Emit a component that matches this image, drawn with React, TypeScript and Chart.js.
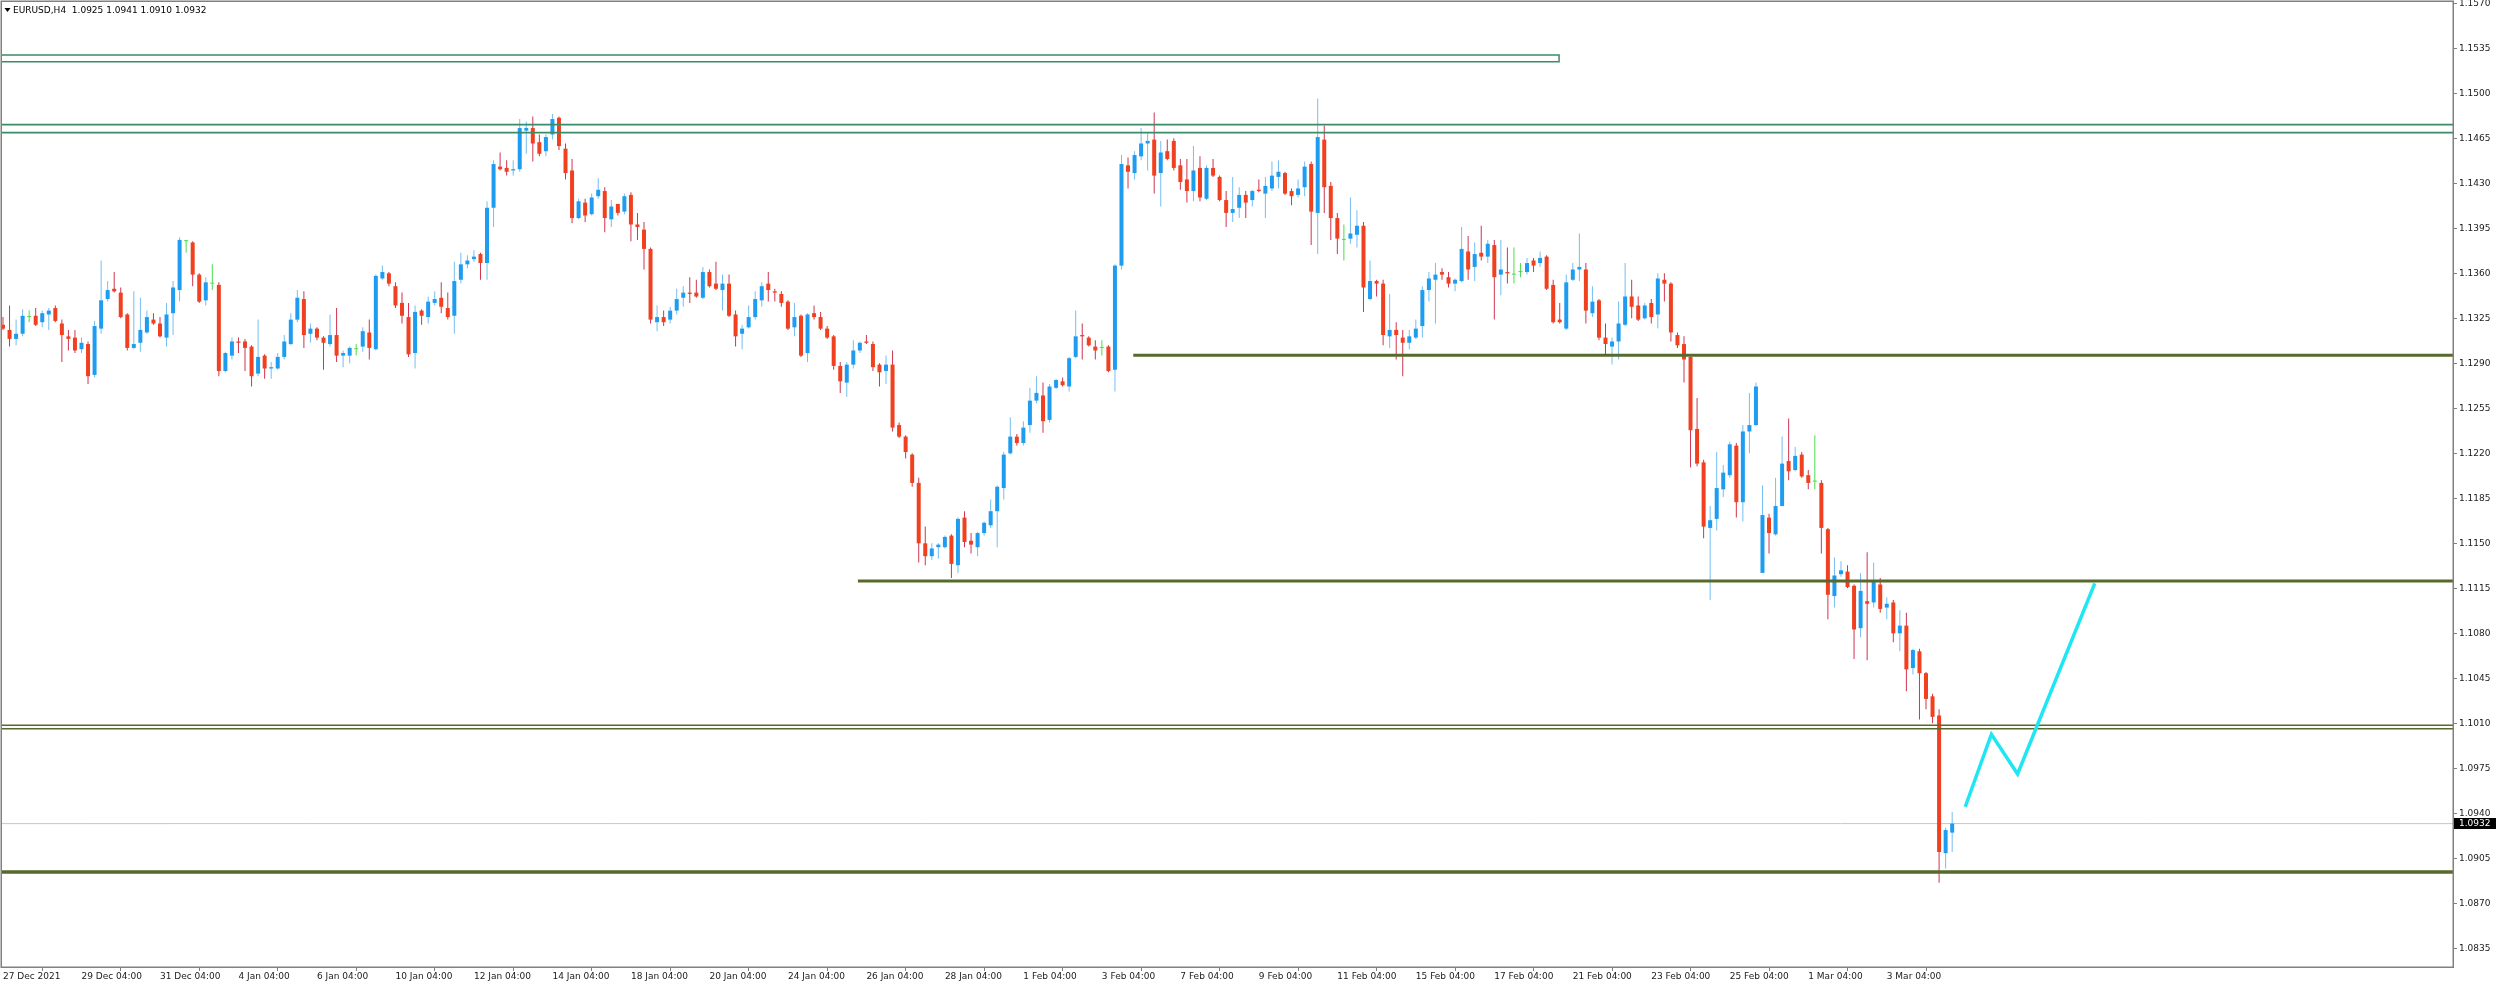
import React, { useEffect, useRef } from "react";
import { Chart, registerables } from "chart.js";

Chart.register(...registerables);

// ---------------- DATA ----------------
const symbolName = "EURUSD";
const timeframe = "H4";

const openPrices = [
  1.1320, 1.1316, 1.1309, 1.1313, 1.1326, 1.1327, 1.1322, 1.1328, 1.1333, 1.1321,
  1.1311, 1.1310, 1.1301, 1.1305, 1.1281, 1.1317, 1.1340, 1.1348, 1.1345, 1.1328,
  1.1302, 1.1306, 1.1314, 1.1324, 1.1321, 1.1310, 1.1329, 1.1347, 1.1385, 1.1384,
  1.1359, 1.1339, 1.1352, 1.1351, 1.1284, 1.1296, 1.1307, 1.1307, 1.1303, 1.1282,
  1.1296, 1.1286, 1.1286, 1.1295, 1.1305, 1.1324, 1.1340, 1.1313, 1.1317, 1.1310,
  1.1305, 1.1312, 1.1296, 1.1296, 1.1301, 1.1303, 1.1314, 1.1301, 1.1356, 1.1360,
  1.1350, 1.1337, 1.1326, 1.1298, 1.1331, 1.1326, 1.1337, 1.1341, 1.1333, 1.1327,
  1.1355, 1.1367, 1.1371, 1.1375, 1.1368, 1.1411, 1.1443, 1.1442, 1.1440, 1.1441,
  1.1471, 1.1473, 1.1462, 1.1455, 1.1468, 1.1481, 1.1457, 1.1440, 1.1403, 1.1415,
  1.1406, 1.1420, 1.1424, 1.1402, 1.1414, 1.1408, 1.1421, 1.1398, 1.1394, 1.1379,
  1.1322, 1.1326, 1.1324, 1.1331, 1.1341, 1.1345, 1.1345, 1.1341, 1.1361, 1.1352,
  1.1347, 1.1352, 1.1328, 1.1313, 1.1318, 1.1326, 1.1339, 1.1352, 1.1346, 1.1344,
  1.1338, 1.1318, 1.1327, 1.1298, 1.1329, 1.1326, 1.1317, 1.1311, 1.1288, 1.1275,
  1.1289, 1.1300, 1.1307, 1.1305, 1.1289, 1.1284, 1.1289, 1.1242, 1.1233, 1.1219,
  1.1197, 1.1150, 1.1140, 1.1147, 1.1147, 1.1156, 1.1133, 1.1170, 1.1152, 1.1147,
  1.1158, 1.1164, 1.1175, 1.1193, 1.1220, 1.1233, 1.1228, 1.1242, 1.1261, 1.1265,
  1.1246, 1.1271, 1.1276, 1.1272, 1.1295, 1.1312, 1.1310, 1.1303, 1.1302, 1.1303,
  1.1285, 1.1366, 1.1444, 1.1438, 1.1451, 1.1461, 1.1464, 1.1438, 1.1455, 1.1463,
  1.1444, 1.1433, 1.1424, 1.1442, 1.1418, 1.1442, 1.1435, 1.1417, 1.1407, 1.1411,
  1.1421, 1.1417, 1.1425, 1.1422, 1.1426, 1.1435, 1.1438, 1.1424, 1.1421, 1.1427,
  1.1445, 1.1407, 1.1464, 1.1428, 1.1403, 1.1386, 1.1387, 1.1390, 1.1397, 1.1340,
  1.1354, 1.1352, 1.1311, 1.1316, 1.1310, 1.1306, 1.1310, 1.1319, 1.1347, 1.1355,
  1.1361, 1.1357, 1.1352, 1.1354, 1.1377, 1.1365, 1.1376, 1.1373, 1.1382, 1.1359,
  1.1361, 1.1359, 1.1361, 1.1361, 1.1370, 1.1368, 1.1373, 1.1351, 1.1324, 1.1317,
  1.1355, 1.1363, 1.1363, 1.1329, 1.1339, 1.1310, 1.1303, 1.1307, 1.1320, 1.1342,
  1.1335, 1.1325, 1.1337, 1.1328, 1.1355, 1.1352, 1.1312, 1.1305, 1.1295, 1.1239,
  1.1213, 1.1162, 1.1169, 1.1192, 1.1203, 1.1226, 1.1182, 1.1237, 1.1242, 1.1127,
  1.1170, 1.1157, 1.1179, 1.1214, 1.1207, 1.1219, 1.1203, 1.1198, 1.1197, 1.1161,
  1.1109, 1.1126, 1.1128, 1.1117, 1.1084, 1.1105, 1.1104, 1.1118, 1.1100, 1.1104,
  1.1080, 1.1086, 1.1053, 1.1066, 1.1049, 1.1031, 1.1016, 1.0909, 1.0925,
];

const highPrices = [
  1.1326, 1.1335, 1.1324, 1.1332, 1.1331, 1.1333, 1.1331, 1.1333, 1.1335, 1.1324,
  1.1316, 1.1316, 1.1310, 1.1307, 1.1323, 1.1370, 1.1354, 1.1361, 1.1349, 1.1329,
  1.1346, 1.1341, 1.1331, 1.1329, 1.1326, 1.1337, 1.1354, 1.1388, 1.1386, 1.1385,
  1.1360, 1.1357, 1.1367, 1.1353, 1.1299, 1.1310, 1.1310, 1.1309, 1.1304, 1.1324,
  1.1297, 1.1291, 1.1298, 1.1312, 1.1329, 1.1347, 1.1346, 1.1321, 1.1318, 1.1311,
  1.1328, 1.1333, 1.1300, 1.1303, 1.1305, 1.1318, 1.1324, 1.1359, 1.1366, 1.1361,
  1.1353, 1.1345, 1.1337, 1.1335, 1.1332, 1.1342, 1.1346, 1.1353, 1.1345, 1.1369,
  1.1376, 1.1374, 1.1378, 1.1376, 1.1416, 1.1448, 1.1454, 1.1448, 1.1448, 1.1480,
  1.1478, 1.1482, 1.1468, 1.1468, 1.1484, 1.1482, 1.1461, 1.1449, 1.1418, 1.1418,
  1.1422, 1.1434, 1.1427, 1.1417, 1.1414, 1.1422, 1.1423, 1.1407, 1.1400, 1.1380,
  1.1335, 1.1331, 1.1334, 1.1348, 1.1350, 1.1357, 1.1355, 1.1365, 1.1363, 1.1369,
  1.1359, 1.1359, 1.1331, 1.1320, 1.1335, 1.1346, 1.1353, 1.1361, 1.1348, 1.1346,
  1.1339, 1.1337, 1.1328, 1.1329, 1.1335, 1.1330, 1.1319, 1.1312, 1.1291, 1.1291,
  1.1308, 1.1307, 1.1312, 1.1307, 1.1290, 1.1296, 1.1300, 1.1244, 1.1234, 1.1220,
  1.1201, 1.1163, 1.1150, 1.1150, 1.1156, 1.1157, 1.1170, 1.1175, 1.1158, 1.1159,
  1.1167, 1.1184, 1.1195, 1.1221, 1.1248, 1.1235, 1.1245, 1.1271, 1.1280, 1.1275,
  1.1274, 1.1278, 1.1279, 1.1295, 1.1331, 1.1321, 1.1311, 1.1308, 1.1308, 1.1304,
  1.1367, 1.1452, 1.1450, 1.1455, 1.1473, 1.1469, 1.1485, 1.1463, 1.1464, 1.1465,
  1.1449, 1.1449, 1.1459, 1.1451, 1.1444, 1.1449, 1.1436, 1.1424, 1.1435, 1.1427,
  1.1424, 1.1425, 1.1433, 1.1435, 1.1447, 1.1448, 1.1439, 1.1426, 1.1433, 1.1447,
  1.1447, 1.1496, 1.1475, 1.1431, 1.1407, 1.1398, 1.1419, 1.1409, 1.1400, 1.1370,
  1.1355, 1.1355, 1.1344, 1.1322, 1.1316, 1.1316, 1.1324, 1.1350, 1.1361, 1.1368,
  1.1364, 1.1361, 1.1356, 1.1396, 1.1389, 1.1384, 1.1397, 1.1386, 1.1386, 1.1386,
  1.1380, 1.1380, 1.1368, 1.1372, 1.1372, 1.1377, 1.1374, 1.1355, 1.1337, 1.1359,
  1.1368, 1.1391, 1.1368, 1.1350, 1.1340, 1.1321, 1.1310, 1.1338, 1.1368, 1.1355,
  1.1342, 1.1337, 1.1340, 1.1360, 1.1360, 1.1353, 1.1314, 1.1311, 1.1297, 1.1263,
  1.1215, 1.1179, 1.1221, 1.1211, 1.1229, 1.1228, 1.1242, 1.1267, 1.1275, 1.1195,
  1.1173, 1.1201, 1.1233, 1.1247, 1.1225, 1.1221, 1.1207, 1.1234, 1.1199, 1.1162,
  1.1139, 1.1136, 1.1133, 1.1118, 1.1127, 1.1143, 1.1135, 1.1123, 1.1108, 1.1106,
  1.1098, 1.1096, 1.1068, 1.1068, 1.1050, 1.1033, 1.1021, 1.0929, 1.0941,
];

const lowPrices = [
  1.1316, 1.1303, 1.1304, 1.1311, 1.1322, 1.1319, 1.1318, 1.1316, 1.1322, 1.1291,
  1.1300, 1.1298, 1.1298, 1.1274, 1.1279, 1.1313, 1.1338, 1.1345, 1.1325, 1.1300,
  1.1301, 1.1299, 1.1313, 1.1320, 1.1310, 1.1303, 1.1312, 1.1338, 1.1376, 1.1350,
  1.1337, 1.1335, 1.1347, 1.1280, 1.1283, 1.1293, 1.1298, 1.1284, 1.1272, 1.1280,
  1.1278, 1.1278, 1.1285, 1.1293, 1.1304, 1.1322, 1.1302, 1.1306, 1.1308, 1.1285,
  1.1303, 1.1291, 1.1287, 1.1290, 1.1296, 1.1299, 1.1293, 1.1300, 1.1355, 1.1350,
  1.1333, 1.1321, 1.1295, 1.1286, 1.1320, 1.1321, 1.1335, 1.1329, 1.1324, 1.1313,
  1.1352, 1.1364, 1.1369, 1.1355, 1.1355, 1.1396, 1.1440, 1.1436, 1.1436, 1.1439,
  1.1453, 1.1447, 1.1451, 1.1451, 1.1464, 1.1456, 1.1433, 1.1399, 1.1402, 1.1400,
  1.1405, 1.1418, 1.1392, 1.1396, 1.1405, 1.1406, 1.1385, 1.1386, 1.1363, 1.1321,
  1.1315, 1.1319, 1.1321, 1.1328, 1.1334, 1.1337, 1.1341, 1.1340, 1.1349, 1.1347,
  1.1331, 1.1326, 1.1303, 1.1301, 1.1317, 1.1324, 1.1334, 1.1338, 1.1338, 1.1334,
  1.1316, 1.1311, 1.1295, 1.1291, 1.1324, 1.1316, 1.1309, 1.1285, 1.1267, 1.1264,
  1.1286, 1.1298, 1.1305, 1.1284, 1.1272, 1.1274, 1.1237, 1.1232, 1.1216, 1.1194,
  1.1135, 1.1133, 1.1137, 1.1138, 1.1146, 1.1123, 1.1127, 1.1147, 1.1142, 1.1140,
  1.1156, 1.1162, 1.1147, 1.1184, 1.1219, 1.1226, 1.1226, 1.1236, 1.1259, 1.1236,
  1.1244, 1.1270, 1.1272, 1.1268, 1.1294, 1.1293, 1.1303, 1.1293, 1.1296, 1.1283,
  1.1268, 1.1363, 1.1426, 1.1433, 1.1448, 1.1440, 1.1422, 1.1412, 1.1448, 1.1440,
  1.1425, 1.1415, 1.1416, 1.1416, 1.1417, 1.1435, 1.1416, 1.1396, 1.1400, 1.1403,
  1.1403, 1.1412, 1.1423, 1.1403, 1.1424, 1.1426, 1.1421, 1.1413, 1.1419, 1.1420,
  1.1382, 1.1375, 1.1407, 1.1386, 1.1375, 1.1370, 1.1383, 1.1380, 1.1330, 1.1339,
  1.1342, 1.1304, 1.1302, 1.1293, 1.1280, 1.1301, 1.1309, 1.1310, 1.1338, 1.1321,
  1.1355, 1.1349, 1.1346, 1.1353, 1.1355, 1.1354, 1.1370, 1.1368, 1.1324, 1.1343,
  1.1352, 1.1352, 1.1357, 1.1359, 1.1361, 1.1365, 1.1347, 1.1321, 1.1321, 1.1316,
  1.1354, 1.1354, 1.1321, 1.1326, 1.1308, 1.1297, 1.1289, 1.1293, 1.1319, 1.1325,
  1.1323, 1.1324, 1.1321, 1.1317, 1.1338, 1.1307, 1.1302, 1.1275, 1.1209, 1.1210,
  1.1154, 1.1106, 1.1160, 1.1186, 1.1201, 1.1170, 1.1167, 1.1220, 1.1241, 1.1127,
  1.1142, 1.1156, 1.1179, 1.1199, 1.1206, 1.1201, 1.1192, 1.1192, 1.1142, 1.1091,
  1.1100, 1.1124, 1.1115, 1.1060, 1.1077, 1.1059, 1.1100, 1.1096, 1.1091, 1.1073,
  1.1066, 1.1035, 1.1048, 1.1013, 1.1021, 1.1010, 1.0886, 1.0897, 1.0910,
];

const closePrices = [
  1.1317, 1.1309, 1.1313, 1.1327, 1.1326, 1.1320, 1.1329, 1.1331, 1.1323, 1.1312,
  1.1309, 1.1300, 1.1306, 1.1280, 1.1319, 1.1339, 1.1347, 1.1346, 1.1326, 1.1302,
  1.1305, 1.1316, 1.1326, 1.1321, 1.1311, 1.1328, 1.1349, 1.1386, 1.1385, 1.1359,
  1.1338, 1.1353, 1.1352, 1.1284, 1.1298, 1.1307, 1.1306, 1.1302, 1.1280, 1.1295,
  1.1286, 1.1287, 1.1295, 1.1307, 1.1324, 1.1341, 1.1312, 1.1317, 1.1310, 1.1306,
  1.1312, 1.1296, 1.1298, 1.1302, 1.1301, 1.1315, 1.1302, 1.1358, 1.1361, 1.1352,
  1.1335, 1.1327, 1.1297, 1.1330, 1.1327, 1.1338, 1.1340, 1.1334, 1.1326, 1.1354,
  1.1367, 1.1370, 1.1373, 1.1368, 1.1411, 1.1445, 1.1441, 1.1439, 1.1441, 1.1473,
  1.1473, 1.1461, 1.1453, 1.1466, 1.1480, 1.1459, 1.1438, 1.1403, 1.1416, 1.1405,
  1.1419, 1.1425, 1.1403, 1.1412, 1.1407, 1.1420, 1.1398, 1.1396, 1.1379, 1.1324,
  1.1326, 1.1322, 1.1331, 1.1340, 1.1345, 1.1344, 1.1342, 1.1361, 1.1350, 1.1348,
  1.1352, 1.1327, 1.1311, 1.1317, 1.1326, 1.1340, 1.1350, 1.1347, 1.1345, 1.1337,
  1.1317, 1.1326, 1.1296, 1.1328, 1.1326, 1.1317, 1.1310, 1.1288, 1.1276, 1.1289,
  1.1300, 1.1306, 1.1306, 1.1287, 1.1283, 1.1289, 1.1240, 1.1233, 1.1221, 1.1197,
  1.1150, 1.1140, 1.1146, 1.1149, 1.1155, 1.1134, 1.1169, 1.1151, 1.1149, 1.1158,
  1.1166, 1.1175, 1.1194, 1.1219, 1.1233, 1.1228, 1.1240, 1.1261, 1.1267, 1.1245,
  1.1272, 1.1277, 1.1273, 1.1294, 1.1311, 1.1311, 1.1304, 1.1300, 1.1302, 1.1284,
  1.1366, 1.1445, 1.1439, 1.1452, 1.1461, 1.1463, 1.1436, 1.1454, 1.1449, 1.1442,
  1.1431, 1.1424, 1.1440, 1.1419, 1.1442, 1.1436, 1.1417, 1.1407, 1.1410, 1.1421,
  1.1415, 1.1424, 1.1424, 1.1428, 1.1436, 1.1439, 1.1422, 1.1420, 1.1426, 1.1443,
  1.1408, 1.1466, 1.1427, 1.1403, 1.1387, 1.1386, 1.1391, 1.1397, 1.1349, 1.1354,
  1.1352, 1.1312, 1.1316, 1.1312, 1.1306, 1.1311, 1.1317, 1.1347, 1.1356, 1.1359,
  1.1359, 1.1352, 1.1355, 1.1379, 1.1363, 1.1375, 1.1373, 1.1383, 1.1357, 1.1363,
  1.1360, 1.1359, 1.1361, 1.1368, 1.1366, 1.1372, 1.1348, 1.1322, 1.1322, 1.1353,
  1.1363, 1.1365, 1.1331, 1.1338, 1.1310, 1.1305, 1.1307, 1.1321, 1.1342, 1.1334,
  1.1324, 1.1335, 1.1326, 1.1356, 1.1352, 1.1314, 1.1304, 1.1293, 1.1238, 1.1212,
  1.1163, 1.1168, 1.1193, 1.1205, 1.1227, 1.1182, 1.1237, 1.1242, 1.1272, 1.1172,
  1.1158, 1.1179, 1.1212, 1.1206, 1.1218, 1.1202, 1.1197, 1.1198, 1.1162, 1.1110,
  1.1125, 1.1129, 1.1116, 1.1083, 1.1113, 1.1103, 1.1120, 1.1099, 1.1103, 1.1080,
  1.1086, 1.1052, 1.1067, 1.1049, 1.1029, 1.1015, 1.0910, 1.0927, 1.0932,
];

// price axis ticks
const yTickValues = [
  1.0835, 1.087, 1.0905, 1.094, 1.0975, 1.101, 1.1045, 1.108, 1.1115, 1.115, 1.1185,
  1.122, 1.1255, 1.129, 1.1325, 1.136, 1.1395, 1.143, 1.1465, 1.15, 1.1535, 1.157,
];

// time axis ticks (bar index) and labels
const xTickBars = [
  0, 12, 24, 36, 48, 60, 72, 84, 96, 108, 120, 132, 144, 156, 168, 180, 192, 204, 216,
  228, 240, 252, 264, 276, 288,
];
const xTickLabels = [
  "27 Dec 2021", "29 Dec 04:00", "31 Dec 04:00", "4 Jan 04:00", "6 Jan 04:00",
  "10 Jan 04:00", "12 Jan 04:00", "14 Jan 04:00", "18 Jan 04:00", "20 Jan 04:00",
  "24 Jan 04:00", "26 Jan 04:00", "28 Jan 04:00", "1 Feb 04:00", "3 Feb 04:00",
  "7 Feb 04:00", "9 Feb 04:00", "11 Feb 04:00", "15 Feb 04:00", "17 Feb 04:00",
  "21 Feb 04:00", "23 Feb 04:00", "25 Feb 04:00", "1 Mar 04:00", "3 Mar 04:00",
];

// drawn objects (prices / bar indices)
const zonePrices = [1.15298, 1.15246];
const zoneEndBar = 237.9;
const greenLevelPrices = [1.14756, 1.14694];
const oliveLevelPrices = [1.12963, 1.11207, 1.10085, 1.10058, 1.08944];
const oliveLevelStartBars = [172.8, 130.7, null, null, null];
const projectionBars = [300, 304, 308, 319.8];
const projectionPrices = [1.09451, 1.10015, 1.09706, 1.11188];

// ---------------- STYLE ----------------
const X_MIN = -0.306;
const X_MAX = 374.57;
const Y_MIN = 1.082048;
const Y_MAX = 1.157182;
const FONT = "'DejaVu Sans', 'Liberation Sans', sans-serif";
const BULL = "#1E9DF0";
const BEAR = "#F0401F";
const DOJI = "#4CDD4C";
const BULL_WICK = "#74BEF2";
const BEAR_WICK = "#CF3450";
const GREEN_LEVEL = "#3A8C68";
const OLIVE = "#566A2C";
const oliveWidths = [3, 3, 1.5, 1.5, 3.5];

const overlayPlugin = {
  id: "mtOverlay",
  afterDraw(chart: any) {
    const { ctx, chartArea: a, scales } = chart;
    ctx.save();
    // frame
    ctx.strokeStyle = "#808080";
    ctx.lineWidth = 1.5;
    ctx.strokeRect(a.left + 0.25, a.top + 0.25, a.right - a.left, a.bottom - a.top);

    // current price tag
    const n = closePrices.length;
    const last = closePrices[n - 1];
    const yp = scales.y.getPixelForValue(last);
    ctx.fillStyle = "#000";
    ctx.fillRect(a.right + 1, Math.round(yp) - 6, 42, 11);
    ctx.fillStyle = "#fff";
    ctx.font = `9px ${FONT}`;
    ctx.textBaseline = "middle";
    ctx.textAlign = "left";
    ctx.fillText(last.toFixed(4), a.right + 6, Math.round(yp) - 0.5);

    // header: small down triangle + symbol and last bar OHLC
    ctx.fillStyle = "#000";
    ctx.beginPath();
    ctx.moveTo(a.left + 3.5, 8);
    ctx.lineTo(a.left + 9.5, 8);
    ctx.lineTo(a.left + 6.5, 12);
    ctx.closePath();
    ctx.fill();
    ctx.font = `9px ${FONT}`;
    const hdr = `${symbolName},${timeframe}  ${openPrices[n - 1].toFixed(4)} ${highPrices[n - 1].toFixed(4)} ${lowPrices[n - 1].toFixed(4)} ${last.toFixed(4)}`;
    ctx.fillText(hdr, a.left + 12, 10.5);
    ctx.restore();
  },
};

export default function App() {
  const canvasRef = useRef<HTMLCanvasElement | null>(null);

  useEffect(() => {
    document.body.style.margin = "0";
    document.body.style.overflow = "hidden";
    const canvas = canvasRef.current;
    if (!canvas) return;

    const idx = openPrices.map((_, i) => i);
    const dir = idx.map((i) => Math.sign(closePrices[i] - openPrices[i]));
    const bodyColors = dir.map((d) => (d > 0 ? BULL : d < 0 ? BEAR : DOJI));
    const wickColors = dir.map((d) => (d > 0 ? BULL_WICK : d < 0 ? BEAR_WICK : DOJI));
    const lastClose = closePrices[closePrices.length - 1];

    const hline = (price: number, from: number, to: number) => [
      { x: from, y: price },
      { x: to, y: price },
    ];
    const lineBase = { type: "line" as const, pointRadius: 0, tension: 0, fill: false, clip: 0 };

    const datasets: any[] = [
      {
        ...lineBase,
        label: "current",
        data: hline(lastClose, X_MIN - 2, X_MAX + 2),
        borderColor: "#C6C6C6",
        borderWidth: 1,
        order: 10,
      },
      {
        type: "bar",
        label: "wicks",
        data: idx.map((i) => ({ x: i, y: [lowPrices[i], highPrices[i]] })),
        backgroundColor: wickColors,
        barThickness: 1,
        grouped: false,
        inflateAmount: 0,
        order: 4,
      },
      {
        type: "bar",
        label: "bodies",
        data: idx.map((i) => ({
          x: i,
          y: [Math.min(openPrices[i], closePrices[i]), Math.max(openPrices[i], closePrices[i])],
        })),
        backgroundColor: bodyColors,
        barThickness: 4,
        minBarLength: 1,
        grouped: false,
        inflateAmount: 0,
        order: 3,
      },
      {
        ...lineBase,
        label: "zone",
        data: [
          { x: X_MIN - 2, y: zonePrices[0] },
          { x: zoneEndBar, y: zonePrices[0] },
          { x: zoneEndBar, y: zonePrices[1] },
          { x: X_MIN - 2, y: zonePrices[1] },
        ],
        borderColor: GREEN_LEVEL,
        borderWidth: 1.5,
        order: 1,
      },
      ...greenLevelPrices.map((p, k) => ({
        ...lineBase,
        label: `green${k}`,
        data: hline(p, X_MIN - 2, X_MAX + 2),
        borderColor: GREEN_LEVEL,
        borderWidth: 1.8,
        order: 1,
      })),
      ...oliveLevelPrices.map((p, k) => ({
        ...lineBase,
        label: `olive${k}`,
        data: hline(p, oliveLevelStartBars[k] ?? X_MIN - 2, X_MAX + 2),
        borderColor: OLIVE,
        borderWidth: oliveWidths[k],
        order: 1,
      })),
      {
        ...lineBase,
        label: "projection",
        data: projectionBars.map((b, k) => ({ x: b, y: projectionPrices[k] })),
        borderColor: "#1EE6F2",
        borderWidth: 3.5,
        borderJoinStyle: "miter",
        order: 0,
      },
    ];

    const tickFont = { family: FONT, size: 9 };

    const chart = new Chart(canvas, {
      type: "bar",
      data: { datasets },
      plugins: [overlayPlugin],
      options: {
        responsive: false,
        animation: false,
        devicePixelRatio: 1,
        layout: { padding: { left: 1, top: 1, right: 0, bottom: 0 } },
        plugins: { legend: { display: false }, tooltip: { enabled: false }, title: { display: false } },
        scales: {
          x: {
            type: "linear",
            min: X_MIN,
            max: X_MAX,
            offset: false,
            bounds: "data",
            grid: { display: true, drawOnChartArea: false, drawTicks: true, tickLength: 4, color: "#808080" },
            border: { display: false },
            ticks: {
              autoSkip: false,
              maxRotation: 0,
              minRotation: 0,
              align: "start",
              padding: 0,
              color: "#1a1a1a",
              font: tickFont,
              callback: (_v: any, i: number) => xTickLabels[i] ?? "",
            },
            afterBuildTicks: (s: any) => {
              s.ticks = xTickBars.map((v) => ({ value: v }));
            },
            afterFit: (s: any) => {
              s.height = 19;
              s.paddingLeft = 0;
              s.paddingRight = 0;
            },
          },
          y: {
            type: "linear",
            position: "right",
            min: Y_MIN,
            max: Y_MAX,
            bounds: "data",
            grid: { display: true, drawOnChartArea: false, drawTicks: true, tickLength: 4, color: "#808080" },
            border: { display: false },
            ticks: {
              autoSkip: false,
              padding: 2,
              color: "#1a1a1a",
              font: tickFont,
              callback: (v: any) => Number(v).toFixed(4),
            },
            afterBuildTicks: (s: any) => {
              s.ticks = yTickValues.map((v) => ({ value: v }));
            },
            afterFit: (s: any) => {
              s.width = 47;
              s.paddingTop = 0;
              s.paddingBottom = 0;
            },
          },
        },
      } as any,
    });

    return () => {
      chart.destroy();
    };
  }, []);

  return (
    <div style={{ width: 2500, height: 986, overflow: "hidden", background: "#fff" }}>
      <canvas ref={canvasRef} width={2500} height={986} style={{ display: "block" }} />
    </div>
  );
}
